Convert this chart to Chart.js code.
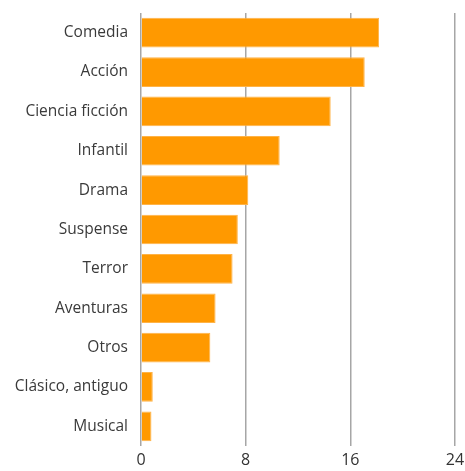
<!DOCTYPE html>
<html>
<head>
<meta charset="utf-8">
<script src="https://cdn.jsdelivr.net/npm/chart.js@4"></script>
<style>
  html, body { margin: 0; padding: 0; background: #fff; }
  #wrap { width: 465px; height: 471px; }
</style>
</head>
<body>
<div id="wrap"><canvas id="chart"></canvas></div>
<script>
// genres and counts
var genres = ['Comedia', 'Acción', 'Ciencia ficción', 'Infantil', 'Drama', 'Suspense',
  'Terror', 'Aventuras', 'Otros', 'Clásico, antiguo', 'Musical'];
var values = [18.2, 17.1, 14.5, 10.6, 8.2, 7.4, 7.0, 5.7, 5.3, 0.9, 0.8];
var xTicks = [0, 8, 16, 24];

const ctx = document.getElementById('chart').getContext('2d');
const chart = new Chart(ctx, {
  type: 'bar',
  data: {
    labels: genres,
    datasets: [{
      data: values,
      backgroundColor: '#ff9900',
      borderColor: '#ffb347',
      borderWidth: 1,
      barPercentage: 0.77,
      categoryPercentage: 0.98
    }]
  },
  options: {
    indexAxis: 'y',
    responsive: true,
    maintainAspectRatio: false,
    animation: false,
    layout: { padding: { top: 13, right: 0, bottom: 0, left: 0 } },
    plugins: { legend: { display: false }, tooltip: { enabled: false } },
    scales: {
      x: {
        min: 0,
        max: 24,
        afterBuildTicks: function (axis) {
          axis.ticks = xTicks.map(function (v) { return { value: v }; });
        },
        afterFit: function (axis) {
          axis.height = 25;
          axis.paddingRight = 10;
        },
        grid: { color: '#a6a6a6', lineWidth: 1.5, drawTicks: false },
        border: { display: false },
        ticks: {
          padding: 6,
          color: '#333',
          font: { family: 'Open Sans', size: 16, lineHeight: 1 }
        }
      },
      y: {
        grid: { display: false, drawTicks: false },
        border: { display: false },
        afterFit: function (axis) {
          axis.width = 141;
          axis.paddingTop = 0;
          axis.paddingBottom = 0;
        },
        ticks: {
          padding: 13,
          color: '#3a3a3a',
          font: { family: 'Open Sans', size: 15.5 }
        }
      }
    }
  }
});
</script>
</body>
</html>
